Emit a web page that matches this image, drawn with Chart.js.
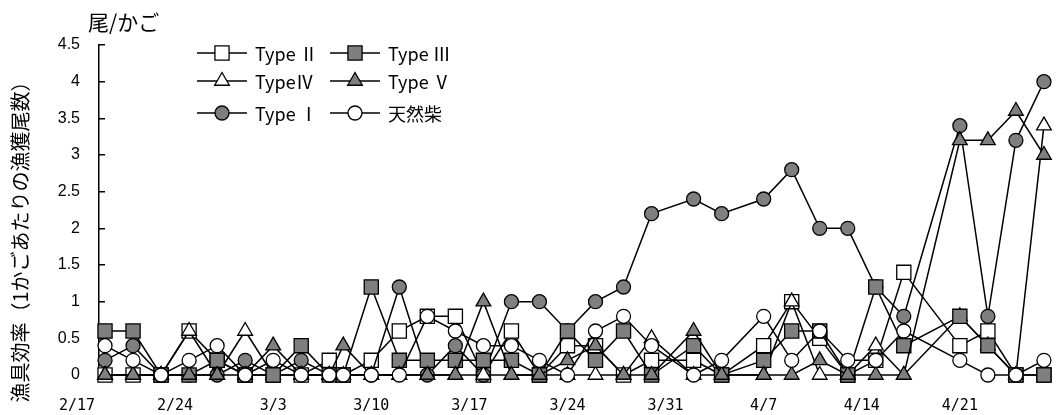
<!DOCTYPE html>
<html lang="ja">
<head>
<meta charset="utf-8">
<script src="https://cdn.jsdelivr.net/npm/chart.js@4.4.1/dist/chart.umd.min.js"></script>
<style>
  html, body { margin: 0; padding: 0; background: #fff; }
  #wrap { width: 1060px; height: 415px; }
</style>
</head>
<body>
<div id="wrap"><canvas id="c" width="1060" height="415"></canvas></div>
<script>
// Sampling dates (month/day)
const dates = ['2/19','2/21','2/23','2/25','2/27','3/1','3/3','3/5','3/7','3/8',
               '3/10','3/12','3/14','3/16','3/18','3/20','3/22','3/24','3/26','3/28',
               '3/30','4/2','4/4','4/7','4/9','4/11','4/13','4/15','4/17','4/21',
               '4/23','4/25','4/27'];

// Catch per trap (fish / trap) for each trap type
const typeI    = [0.2,0.4,0,0,0,0.2,0,0.2,0,0,0,1.2,0,0.4,0,1.0,1.0,0.6,1.0,1.2,2.2,2.4,2.2,2.4,2.8,2.0,2.0,1.2,0.8,3.4,0.8,3.2,4.0];
const typeII   = [0,0,0,0.6,0.2,0,0,0,0.2,0,0.2,0.6,0.8,0.8,0,0.6,0,0.4,0.4,0,0.2,0.2,0,0.4,1.0,0.5,0,0.2,1.4,0.4,0.6,0,0];
const typeIII  = [0.6,0.6,0,0,0.2,0,0,0.4,0,0,1.2,0.2,0.2,0.2,0.2,0.2,0,0.6,0.2,0.6,0,0.4,0,0.2,0.6,0.6,0,1.2,0.4,0.8,0.4,0,0];
const typeIV   = [0,0,0,0.6,0,0.6,0,0,0,0,0,0,0,0,0,0,0,0,0,0,0.5,0,0,0,1.0,0,0,0.4,0,0.8,0.4,0,3.4];
const typeV    = [0,0,0,0,0,0,0.4,0,0,0.4,0,0,0,0,1.0,0,0,0.2,0.4,0,0,0.6,0,0,0,0.2,0,0,0,3.2,3.2,3.6,3.0];
const natural  = [0.4,0.2,0,0.2,0.4,0,0.2,0,0,0,0,0,0.8,0.6,0.4,0.4,0.2,0,0.6,0.8,0.4,0,0.2,0.8,0.2,0.6,0.2,0.2,0.6,0.2,0,0,0.2];

// Weekly tick labels on the date axis
const tickDates = ['2/17','2/24','3/3','3/10','3/17','3/24','3/31','4/7','4/14','4/21'];

const yTitle = '漁具効率（1かごあたりの漁獲尾数）';
const unitLabel = '尾/かご';

// ---- date helpers (non-leap year) ----
const monthStart = [0,31,59,90,120,151,181,212,243,273,304,334];
function dayOfYear(md) {
  const [m, d] = md.split('/').map(Number);
  return monthStart[m - 1] + d;
}
const origin = dayOfYear(tickDates[0]);
const dayNum = md => dayOfYear(md) - origin;
const tickDays = tickDates.map(dayNum);

// order: higher value is painted first (further back)
const GRAY = '#7f7f7f';
const series = [
  { key: 'II',  label: 'Type Ⅱ',  data: typeII,  style: 'rect',     fill: '#ffffff', r: 10,  order: 6 },
  { key: 'III', label: 'Type Ⅲ',  data: typeIII, style: 'rect',     fill: GRAY,      r: 10,  order: 3 },
  { key: 'IV',  label: 'TypeⅣ',   data: typeIV,  style: 'triangle', fill: '#ffffff', r: 8.5, order: 4 },
  { key: 'V',   label: 'Type Ⅴ',  data: typeV,   style: 'triangle', fill: GRAY,      r: 8.5, order: 2 },
  { key: 'I',   label: 'Type Ⅰ',  data: typeI,   style: 'circle',   fill: GRAY,      r: 7,   order: 5 },
  { key: 'N',   label: '天然柴',   data: natural, style: 'circle',   fill: '#ffffff', r: 7,   order: 1 }
];

const datasets = series.map(s => ({
  label: s.label,
  data: dates.map((d, i) => ({ x: dayNum(d), y: s.data[i] })),
  borderColor: '#000',
  borderWidth: 1.5,
  pointStyle: s.style,
  pointRadius: s.r,
  pointHoverRadius: s.r,
  pointBackgroundColor: s.fill,
  pointBorderColor: '#000',
  pointBorderWidth: 1.3,
  tension: 0,
  fill: false,
  clip: false,
  order: s.order
}));

// Legend with line-through markers, two columns x three rows
const legendLayout = [
  ['II', 'III'],
  ['IV', 'V'],
  ['I', 'N']
];
const legendPlugin = {
  id: 'lineLegend',
  afterDraw(chart) {
    const ctx = chart.ctx;
    const colX = [197, 330];
    const rowY = [53, 81, 113];
    ctx.save();
    legendLayout.forEach((row, ri) => {
      row.forEach((key, ci) => {
        const s = series.find(t => t.key === key);
        const x0 = colX[ci], y = rowY[ri];
        ctx.strokeStyle = '#000';
        ctx.lineWidth = 1.5;
        ctx.beginPath();
        ctx.moveTo(x0, y);
        ctx.lineTo(x0 + 50, y);
        ctx.stroke();
        ctx.fillStyle = s.fill;
        ctx.lineWidth = 1.3;
        Chart.helpers.drawPoint(ctx, { pointStyle: s.style, radius: s.r, rotation: 0, borderWidth: 1.3 }, x0 + 25, y);
        ctx.fillStyle = '#000';
        ctx.font = '18px "Noto Sans CJK JP"';
        ctx.textBaseline = 'middle';
        ctx.textAlign = 'left';
        ctx.fillText(s.label, x0 + 58, y + 1);
      });
    });
    ctx.restore();
  }
};

// Unit label and rotated axis title
const textPlugin = {
  id: 'axisTexts',
  afterDraw(chart) {
    const ctx = chart.ctx;
    ctx.save();
    ctx.fillStyle = '#000';
    ctx.font = '21px "Noto Sans CJK JP"';
    ctx.textAlign = 'left';
    ctx.textBaseline = 'middle';
    ctx.fillText(unitLabel, 88, 22);
    ctx.translate(20, 237);
    ctx.rotate(-Math.PI / 2);
    ctx.font = '20px "Noto Sans CJK JP"';
    ctx.textAlign = 'center';
    ctx.fillText(yTitle, 0, 0);
    ctx.restore();
  }
};

new Chart(document.getElementById('c'), {
  type: 'line',
  data: { datasets },
  plugins: [legendPlugin, textPlugin],
  options: {
    responsive: false,
    animation: false,
    devicePixelRatio: 1,
    events: [],
    layout: { padding: { left: 0, top: 45, right: 0, bottom: 0 } },
    plugins: { legend: { display: false }, tooltip: { enabled: false } },
    scales: {
      x: {
        type: 'linear',
        min: 1.57,
        max: 69.34,
        grid: { display: false, drawTicks: false },
        border: { display: false },
        ticks: {
          autoSkip: false,
          maxRotation: 0,
          padding: 22,
          color: '#000',
          font: { family: '"DejaVu Sans Mono"', size: 15 },
          callback: v => tickDates[tickDays.indexOf(v)] || ''
        },
        afterBuildTicks: s => { s.ticks = tickDays.map(v => ({ value: v })); },
        afterFit: s => { s.height = 40; s.paddingLeft = 0; s.paddingRight = 0; }
      },
      y: {
        min: 0,
        max: 4.5,
        grid: { display: true, drawOnChartArea: false, drawTicks: true, tickLength: -6, color: '#000', lineWidth: 1.5 },
        border: { display: true, color: '#000', width: 1.5 },
        ticks: {
          stepSize: 0.5,
          padding: 25,
          color: '#000',
          font: { family: '"Liberation Sans"', size: 16 },
          callback: v => String(Math.round(v * 10) / 10)
        },
        afterFit: s => { s.width = 99; s.paddingTop = 0; s.paddingBottom = 0; }
      }
    }
  }
});
</script>
</body>
</html>
